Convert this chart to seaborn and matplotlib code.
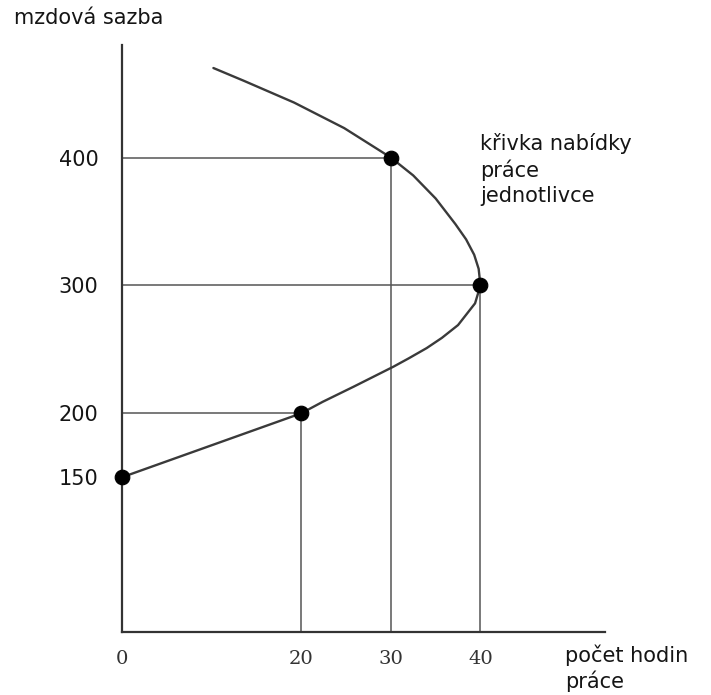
import matplotlib
matplotlib.use("Agg")
import pandas as pd
import seaborn as sns
import matplotlib.pyplot as plt

# marked points on the supply curve (hours, wage)
point_hours = [0, 20, 30, 40]
point_wages = [150, 200, 400, 300]

# backward bending supply curve (top end first)
curve_hours = [10.2, 13.6, 19.2, 24.8, 30, 32.5, 35.0, 37.2, 38.4, 39.3, 39.8, 40,
               39.4, 37.5, 35.7, 34.0, 32.0, 30.3, 25.9, 22.4, 20, 10, 0]
curve_wages = [470, 460, 443, 423, 400, 386, 368, 348, 336, 324, 313, 300,
               286, 269, 259, 251, 243, 236.5, 221, 209, 200, 175, 150]

x_ticks = [0, 20, 30, 40]
y_ticks = [150, 200, 300, 400]

y_label = "mzdová sazba"
x_label = "počet hodin\npráce"
curve_label = "křivka nabídky\npráce\njednotlivce"

sns.set_style("white")
plt.rcParams["font.family"] = ["DejaVu Sans"]

W, H = 711, 695
fig = plt.figure(figsize=(W / 100, H / 100), dpi=100)
ax = fig.add_axes([122 / W, 1 - 632 / H, (605 - 122) / W, (632 - 45) / H])

line_col = "#3a3a3a"
guide_col = "#555555"
text_col = "#151515"

# guide lines from the axes to each marked point
for h, w in zip(point_hours, point_wages):
    if h > 0:
        ax.plot([0, h], [w, w], color=guide_col, lw=1.1, zorder=1)
        ax.plot([h, h], [29, w], color=guide_col, lw=1.1, zorder=1)

curve_df = pd.DataFrame({"hours": curve_hours, "wage": curve_wages})
sns.lineplot(data=curve_df, x="hours", y="wage", sort=False, estimator=None,
             color=line_col, lw=1.7, ax=ax, zorder=2)

points_df = pd.DataFrame({"hours": point_hours, "wage": point_wages})
sns.scatterplot(data=points_df, x="hours", y="wage", color="black", s=110,
                edgecolor="black", ax=ax, zorder=3, clip_on=False)

ax.set_xlim(0, 53.9)
ax.set_ylim(29, 488)
ax.set_xlabel("")
ax.set_ylabel("")

ax.set_xticks(x_ticks)
ax.set_xticklabels([str(t) for t in x_ticks], family="DejaVu Serif", fontsize=14, color="#333333")
ax.set_yticks(y_ticks)
ax.set_yticklabels([str(t) for t in y_ticks], fontsize=15, color=text_col)
ax.tick_params(axis="x", length=0, pad=13)
ax.tick_params(axis="y", length=0, pad=17)

for side in ["top", "right"]:
    ax.spines[side].set_visible(False)
for side in ["left", "bottom"]:
    ax.spines[side].set_color("#333333")
    ax.spines[side].set_linewidth(1.6)

fig.text(14 / W, 1 - 18 / H, y_label, fontsize=15, color=text_col, va="center", ha="left")
fig.text(480 / W, 1 - 133 / H, curve_label, fontsize=15, color=text_col,
         va="top", ha="left", linespacing=1.3)
fig.text(565 / W, 1 - 644 / H, x_label, fontsize=15, color=text_col,
         va="top", ha="left", linespacing=1.3)

fig.savefig("out.png", dpi=100, facecolor="white")
